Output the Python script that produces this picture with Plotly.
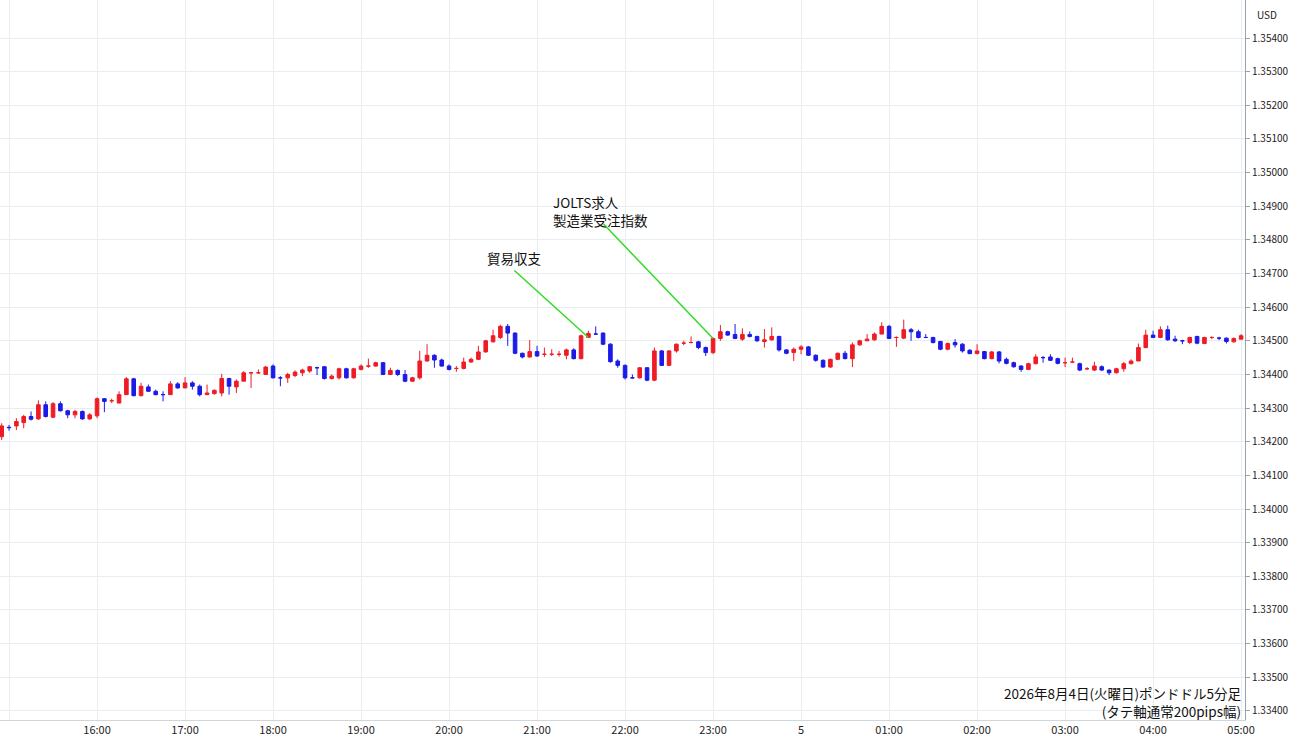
import plotly.graph_objects as go
import pandas as pd

# pips above 1.34000, 5-minute candles from 2026-08-04 14:55 to 08-05 05:00
O = [21.5,24.3,24.7,25.7,27.5,26.8,31,27.3,31.3,29.2,28,29,26.8,
     27.7,32.8,32.2,31.5,34,38.7,33.7,36.3,35,34,34,37.2,
     36,37.5,36.5,34,34.3,34.5,38.8,36.3,38,40.5,40.5,40,
     42.5,39,39,39.7,40.5,41,42,42.3,38.8,39,41.7,39,
     41.5,42.5,42.5,43.5,40,41.2,40,38,39,44,45.7,44.3,
     42.5,41.8,41.8,43.7,44.5,46.7,49.7,51,54.3,52.3,46.3,45.2,
     46.8,46,46,46,45.7,47.3,44.7,51,52,52.3,49,44,
     42.7,39,39,42,38.3,47,42.7,47,49.3,49.5,49.7,48,
     46.5,50.7,52.7,51.9,50.5,51.9,51.3,49.8,50.3,51.3,47.3,46.5,
     47.5,48.2,45.7,44.2,42.2,44.5,46.3,44.7,48.8,50,50.3,52,
     54.3,51,50.8,53.3,52.7,51,51,49.8,47.5,49.5,49,47.2,
     46.2,46.8,44.7,46.7,44.5,43.5,42.5,41.5,43.2,45,45.2,44.7,
     43.5,43.7,43.2,41.7,41.3,42.3,41.3,40.5,41.7,43.2,44,48,
     51.7,51,53.3,50.5,50,49.5,51.3,49.2,51,50.8,50.8,49.7,
     50.5]
H = [25.5,25,27,28,29,32.3,32,31.8,32,29.5,29.5,29.3,28.5,
     33.2,33,32.8,35,39.2,39,37.5,37,35.5,35,38,37.7,
     39.2,38,37,37,35.5,40.2,39,38.5,41,40.8,41.5,42.5,
     43,39.5,40.5,41.2,41.7,42.5,42.3,42.5,40,42,42,42,
     43,44.7,43.8,43.7,42,41.5,41.3,39.3,47,49,46,44.7,
     43,42.5,45,45,48.5,50.3,53.3,54.8,55,52.5,46.5,50.2,
     48.5,48,47.5,47,47.7,47.8,51.8,53,54.3,52.5,49.3,44.5,
     43,40,42.2,42.2,48,47.3,47.2,49.2,50,51.3,50,48.3,
     51,54.7,53,55,53.7,52.8,51.5,53.5,54,51.5,47.5,48,
     48.7,48.5,46,44.5,44.7,46.5,47,49.5,50.3,52,52.5,55.5,
     54.7,51.3,56.3,53.8,53.3,52,51.2,50,49.5,50.5,49.3,47.5,
     49,47,47,47,45,43.8,42.8,43.5,46,45.5,46,45,
     45,45,43.5,42.2,43.8,42.7,41.5,42,43.7,44.5,49.2,53.3,
     53,54.3,54.5,51.5,50.3,51.2,51.5,51.2,51.3,51.2,51,51,
     52]
L = [20.5,23.3,23.5,24,26.3,26.5,27.2,27,29,27,27,26.5,26.5,
     27,28.8,31.5,31.5,34,33.5,33.5,34.8,33.8,32,34,35.8,
     36,35.5,33.5,34,34,33.5,34,34.5,38,36,40.2,40,
     38.8,36.5,37.5,39.2,39.5,40.5,39.8,38.5,38.5,38.5,38.8,38.8,
     41.2,42,42.3,39.8,39.8,39.5,37.7,37.8,38.5,43.8,42,42.3,
     41.2,40.8,41.5,43.5,44.3,46.5,49.5,50.5,48.5,46,44.8,45,
     45.2,45.2,45.5,45.3,44.5,44.5,44.5,50.8,51.8,48.7,43.5,42,
     38.5,38.8,38.8,38,38,42.5,42.5,46.5,48.7,49.2,47.5,45.5,
     46,50,51.5,50.5,50,51,49.7,48,50,46.8,46,44,
     46,45.5,43.8,42,42,44.3,44.5,42.2,48.5,50,50,52,
     50.5,48.2,50.5,50,50.7,50.8,49.2,47.2,47.2,48,46.5,46,
     46,44.5,44.5,43.3,43,42,40.8,41.3,43,43.5,44,43,
     42.2,43.5,41,41.3,41,41,39.8,40.3,40.8,43,44,47.8,
     50.8,50.8,50,49.7,49,49,49,49,50.5,50.2,49.2,49.5,
     50.5]
C = [24.7,24.2,26,27.5,26.7,31,27.5,31.3,29.2,28,29,26.8,28,
     32.8,32,32.2,34,38.7,33.7,36.5,35,34,34,37.2,36,
     37.5,36.5,34,34.5,35.3,38.8,36.5,38,40.5,40.5,40.5,42.2,
     39,39,40,40.7,41.3,42.3,42,38.8,39.5,41.7,39,41.7,
     42.5,42.5,43.5,40,41.2,40,38,39,44,45.7,44.3,42.5,
     41.5,41.8,43.7,44.5,46.7,50,51.5,54.3,52.3,46.3,45.2,46.8,
     45.5,46,46,46,47.3,44.7,51.5,52.2,52,49,43.8,42.7,
     39,39,42,38.3,47,42.7,47,49,49.3,49.5,48,46.5,
     50.7,52.7,51.7,50.7,51.9,51.3,50,50.3,51.3,47.3,46.3,47.5,
     48.2,45.7,44.2,42.2,44.5,46.3,44.7,48.8,50,50.5,52,54.3,
     50.7,51,53.3,52.7,51,51,49.5,47.5,49.2,48.8,47,46.2,
     47,44.7,46.7,44,43.3,42.3,41.5,43.2,45.2,45,44.2,43.3,
     43.5,43.7,41.3,41.7,42.5,41.3,40.5,41.7,43.2,44,48,51.7,
     51,53.3,50.3,50,50,51,49.3,51,51,50.8,49.8,50.7,
     51.5]

times = pd.date_range("2026-08-04 14:55", periods=len(C), freq="5min")
base = 1.34
def px(a):
    return [base + v / 10000 for v in a]

tick_times = pd.date_range("2026-08-04 15:00", "2026-08-05 05:00", freq="1h")
tick_text = ["15:00","16:00","17:00","18:00","19:00","20:00","21:00","22:00","23:00",
             "5","01:00","02:00","03:00","04:00","05:00"]
y_ticks = [1.334 + i * 0.001 for i in range(21)]

fig = go.Figure(go.Candlestick(
    x=times, open=px(O), high=px(H), low=px(L), close=px(C),
    increasing=dict(line=dict(color="#ee1c25", width=1), fillcolor="#ee1c25"),
    decreasing=dict(line=dict(color="#1b1ae8", width=1), fillcolor="#1b1ae8"),
    whiskerwidth=0, showlegend=False))

jp = "Noto Sans CJK JP"
fig.update_layout(
    width=1300, height=745, margin=dict(l=0, r=55, t=0, b=25),
    paper_bgcolor="white", plot_bgcolor="white",
    font=dict(family=jp, size=11, color="#222"),
    xaxis=dict(rangeslider=dict(visible=False), showgrid=True, gridcolor="#e6edf3",
               tickvals=list(tick_times), ticktext=tick_text, ticks="",
               range=[pd.Timestamp("2026-08-04 14:53:50"), pd.Timestamp("2026-08-05 05:02:40")],
               showline=True, linecolor="#cfd6dc", tickfont=dict(size=11)),
    yaxis=dict(side="right", range=[1.33373, 1.35513], tickvals=y_ticks, tickformat=".5f",
               showgrid=True, gridcolor="#e6edf3", showline=True, linecolor="#9aa2a8",
               ticks="outside", ticklen=4, tickcolor="#9aa2a8", tickfont=dict(size=10), zeroline=False),
)

fig.add_annotation(xref="paper", yref="paper", x=1.008, y=0.993, text="USD", showarrow=False,
                   xanchor="left", yanchor="top", font=dict(size=10))
fig.add_annotation(x=pd.Timestamp("2026-08-04 21:35"), y=1.3451, text="貿易収支",
                   showarrow=True, arrowhead=0, arrowwidth=1.5, arrowcolor="#33dd22",
                   ax=-74, ay=-67, xanchor="center", yanchor="bottom", font=dict(size=13.5, color="#111"),
                   standoff=0)
fig.add_annotation(x=pd.Timestamp("2026-08-04 23:00"), y=1.34507, text="",
                   showarrow=True, arrowhead=0, arrowwidth=1.5, arrowcolor="#33dd22",
                   ax=-111, ay=-116)
fig.add_annotation(xref="paper", yref="paper", x=551/1245, y=1-190/720,
                   text="JOLTS求人<br>製造業受注指数", showarrow=False, align="left",
                   xanchor="left", yanchor="top", font=dict(size=13.5, color="#111"))
fig.add_annotation(xref="paper", yref="paper", x=0.999, y=1-681/720,
                   text="2026年8月4日(火曜日)ポンドドル5分足<br>(タテ軸通常200pips幅)",
                   showarrow=False, align="right", xanchor="right", yanchor="top",
                   font=dict(size=13.5, color="#111"))

fig.write_html("out.html", post_script="document.body.style.margin='0';",
               config={"displayModeBar": False})
